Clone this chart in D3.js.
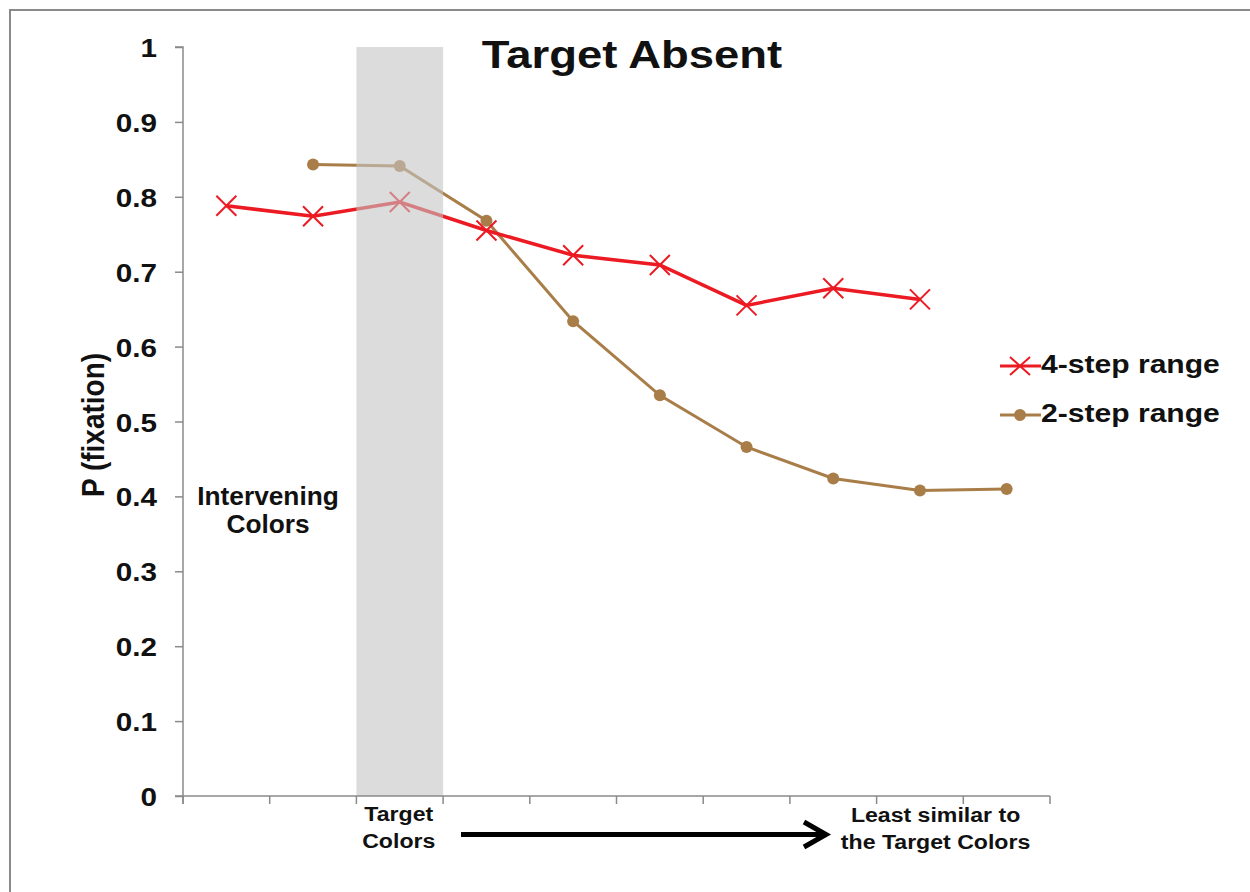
<!DOCTYPE html>
<html>
<head>
<meta charset="utf-8">
<script src="https://cdn.jsdelivr.net/npm/d3@7/dist/d3.min.js"></script>
<style>
  html, body { margin: 0; padding: 0; background: #fff; }
  svg { display: block; }
  text { font-family: "Liberation Sans", Arial, Helvetica, sans-serif; font-weight: bold; fill: #111; }
</style>
</head>
<body>
<svg id="chart" width="1250" height="892"></svg>
<script>
// ---- data ----
const categories = ["c1","c2","c3","c4","c5","c6","c7","c8","c9","c10"];
const series4Step = [0.788, 0.774, 0.793, 0.755, 0.722, 0.709, 0.655, 0.678, 0.663, null];
const series2Step = [null, 0.843, 0.841, 0.768, 0.634, 0.535, 0.466, 0.424, 0.408, 0.410];
const yTicks = [0, 0.1, 0.2, 0.3, 0.4, 0.5, 0.6, 0.7, 0.8, 0.9, 1];
const yTickLabels = ["0","0.1","0.2","0.3","0.4","0.5","0.6","0.7","0.8","0.9","1"];
const seriesNames = ["4-step range", "2-step range"];
const targetCategory = "c3";

// ---- layout ----
const svg = d3.select("#chart");
const SX = 1.18; // horizontal stretch of the reference text
const x = d3.scaleBand().domain(categories).range([183, 1050]).paddingInner(0).paddingOuter(0);
const y = d3.scaleLinear().domain([0, 1]).range([796, 47]);
const cx = c => x(c) + x.bandwidth() / 2;

const RED = "#ec1a22";
const TAN = "#a97d48";

// frame
svg.append("path").attr("d", "M10,892 L10,10 L1250,10")
  .attr("fill", "none").attr("stroke", "#8a8a8a").attr("stroke-width", 2);

function stext(px, py, str, size, anchor, sx) {
  return svg.append("text")
    .attr("transform", `translate(${px},${py}) scale(${sx || SX},1)`)
    .attr("text-anchor", anchor || "middle")
    .style("font-size", size + "px")
    .text(str);
}

// lines
const line = d3.line().defined(d => d.v != null).x(d => cx(d.c)).y(d => y(d.v));
const d4 = categories.map((c, i) => ({c, v: series4Step[i]}));
const d2 = categories.map((c, i) => ({c, v: series2Step[i]}));

svg.append("path").datum(d2).attr("d", line)
  .attr("fill", "none").attr("stroke", TAN).attr("stroke-width", 3);
svg.append("g").selectAll("circle").data(d2.filter(d => d.v != null)).join("circle")
  .attr("cx", d => cx(d.c)).attr("cy", d => y(d.v)).attr("r", 6).attr("fill", TAN);

svg.append("path").datum(d4).attr("d", line)
  .attr("fill", "none").attr("stroke", RED).attr("stroke-width", 3.5);
const xm = 10, ym = 10;
svg.append("g").selectAll("path").data(d4.filter(d => d.v != null)).join("path")
  .attr("d", d => { const px = cx(d.c), py = y(d.v);
    return `M${px-xm},${py-ym}L${px+xm},${py+ym}M${px-xm},${py+ym}L${px+xm},${py-ym}`; })
  .attr("stroke", RED).attr("stroke-width", 2).attr("fill", "none");

// shaded target band (drawn over the lines, semi-transparent)
svg.append("rect")
  .attr("x", x(targetCategory)).attr("width", x.bandwidth())
  .attr("y", y(1)).attr("height", y(0) - y(1))
  .attr("fill", "rgb(196,196,196)").attr("fill-opacity", 0.6);

// y axis
const yAxis = d3.axisLeft(y).tickValues(yTicks)
  .tickFormat((d, i) => yTickLabels[i]).tickSize(8).tickPadding(0);
const gy = svg.append("g").attr("transform", "translate(183,0)").call(yAxis);
gy.select(".domain").attr("stroke", "#8a8a8a").attr("stroke-width", 1.5)
  .attr("d", `M-8,${y(1)}H0V${y(0)+8}`);
gy.selectAll(".tick line").attr("stroke", "#8a8a8a").attr("stroke-width", 1.5);
gy.selectAll(".tick text")
  .attr("x", 0).attr("dy", null).attr("y", 0)
  .attr("transform", `translate(-26,9.5) scale(1.12,1)`)
  .attr("text-anchor", "end")
  .style("font-size", "26.5px").style("font-family", "'Liberation Sans', Arial, sans-serif")
  .style("font-weight", "bold").attr("fill", "#111");

// x axis
const xTickPositions = categories.map(c => x(c)).concat([x(categories[categories.length-1]) + x.bandwidth()]);
const gx = svg.append("g");
gx.append("line").attr("x1", 175).attr("x2", 1050).attr("y1", y(0)).attr("y2", y(0))
  .attr("stroke", "#8a8a8a").attr("stroke-width", 1.5);
gx.selectAll("line.t").data(xTickPositions).join("line").attr("class", "t")
  .attr("x1", d => d).attr("x2", d => d).attr("y1", y(0)).attr("y2", y(0) + 8)
  .attr("stroke", "#8a8a8a").attr("stroke-width", 1.5);

// title
stext(632, 68, "Target Absent", 38.5, "middle", 1.18);

// y label
svg.append("text")
  .attr("transform", `translate(104,425) scale(1.15,1) rotate(-90)`)
  .attr("text-anchor", "middle")
  .style("font-size", "28px")
  .text("P (fixation)");

// annotations
stext(268, 505, "Intervening", 25.5, "middle", 1.03);
stext(268, 533, "Colors", 25.5, "middle", 1.03);
stext(cx(targetCategory) - 1, 821, "Target", 21, "middle", 1.1);
stext(cx(targetCategory) - 1, 848, "Colors", 21, "middle", 1.1);
const lsX = x(categories[8]) + x.bandwidth() * 0.68;
stext(lsX, 822, "Least similar to", 21, "middle", 1.1);
stext(lsX, 849, "the Target Colors", 21, "middle", 1.1);

// arrow
svg.append("line").attr("x1", 461).attr("x2", 824).attr("y1", 834.5).attr("y2", 834.5)
  .attr("stroke", "#000").attr("stroke-width", 5);
svg.append("path").attr("d", "M804,822 L826,834.5 L804,847")
  .attr("fill", "none").attr("stroke", "#000").attr("stroke-width", 5)
  .attr("stroke-linejoin", "miter");

// legend
const lg = svg.append("g");
const legendRows = [
  {name: seriesNames[0], color: RED, marker: "x", yy: 366},
  {name: seriesNames[1], color: TAN, marker: "o", yy: 415}
];
legendRows.forEach(r => {
  lg.append("line").attr("x1", 1000).attr("x2", 1041).attr("y1", r.yy).attr("y2", r.yy)
    .attr("stroke", r.color).attr("stroke-width", 3);
  if (r.marker === "x") {
    lg.append("path").attr("d", `M1010,${r.yy-9}L1030,${r.yy+9}M1010,${r.yy+9}L1030,${r.yy-9}`)
      .attr("stroke", r.color).attr("stroke-width", 2).attr("fill", "none");
  } else {
    lg.append("circle").attr("cx", 1020).attr("cy", r.yy).attr("r", 6).attr("fill", r.color);
  }
  stext(1041, r.yy + 7, r.name, 25.5, "start", 1.18);
});
</script>
</body>
</html>
